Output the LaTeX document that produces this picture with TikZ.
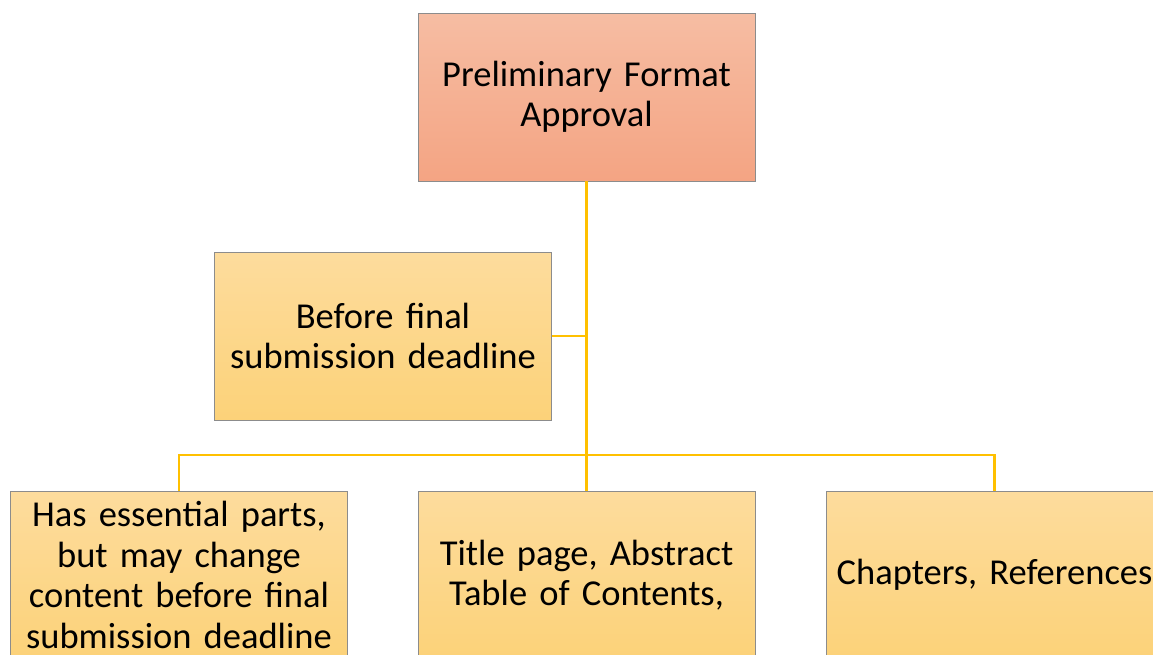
\documentclass[tikz,border=0pt]{standalone}
\usepackage{fontspec}
\setmainfont{Carlito}
\definecolor{bordergray}{HTML}{8C8C8C}
\definecolor{linegold}{HTML}{FFC000}
\definecolor{salmontop}{HTML}{F6BDA3}
\definecolor{salmonbot}{HTML}{F4A483}
\definecolor{ambertop}{HTML}{FDDC9D}
\definecolor{amberbot}{HTML}{FCD279}
\begin{document}
\begin{tikzpicture}[x=1pt,y=-1pt,
  box/.style={draw=bordergray, line width=0.8pt, minimum width=337pt, minimum height=168pt,
    inner sep=0pt, align=center, text width=336pt, font=\fontsize{36.5}{40.5}\selectfont},
  rootbox/.style={box, top color=salmontop, bottom color=salmonbot},
  leafbox/.style={box, top color=ambertop, bottom color=amberbot},
  link/.style={draw=linegold, line width=2.4pt}]
\useasboundingbox (0,0) rectangle (1153,654);
\clip (0,0) rectangle (1153,654);
\node[rootbox] (top) at (586.5,97) {Preliminary Format\\Approval};
\node[leafbox] (mid) at (383,336) {Before final\\submission deadline};
\node[leafbox] (b1) at (179,575) {Has essential parts,\\but may change\\content before final\\submission deadline};
\node[leafbox] (b2) at (586.5,575) {Title page, Abstract\\Table of Contents,};
\node[leafbox] (b3) at (994.5,575) {Chapters, References};
\coordinate (j) at (586.5,455);
\draw[link] (top.south) -- (j);
\draw[link] (top.south |- mid.east) -- (mid.east);
\draw[link] (j) -| (b1.north);
\draw[link] (j) -| (b3.north);
\draw[link] (j) -- (b2.north);
\end{tikzpicture}
\end{document}
